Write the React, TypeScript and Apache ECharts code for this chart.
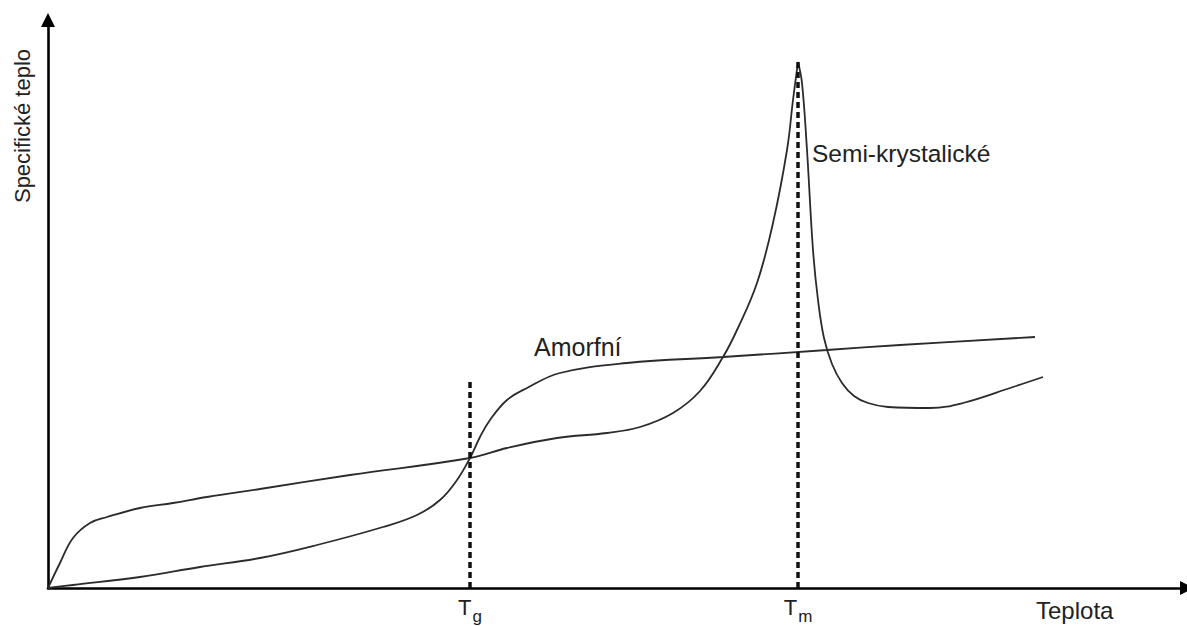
import React, { useEffect, useRef } from "react";
import * as echarts from "echarts";

// x: temperature (arbitrary units), y: specific heat (arbitrary units)
const amorphousX = [0, 25, 92, 152, 212, 269, 335, 369, 392, 409, 422, 432, 442, 459, 479, 512, 579, 675, 779, 852, 987];
const amorphousY = [0, 3, 11, 21, 30, 43, 61, 73, 88, 108, 130, 151, 168, 188, 200, 215, 225, 231, 238, 243, 251];

const semiRiseX = [0, 12, 25, 42, 59, 92, 125, 159, 212, 302, 422, 459, 509, 559, 592, 625, 652, 675, 689, 709, 725, 739, 745, 750];
const semiRiseY = [0, 25, 50, 65, 71, 80, 85, 91, 99, 113, 130, 140, 150, 155, 161, 175, 197, 231, 258, 305, 365, 438, 488, 526];

const semiFallX = [750, 754, 759, 765, 770, 776, 784, 794, 806, 820, 840, 882, 915, 965, 995];
const semiFallY = [526, 505, 438, 338, 288, 250, 224, 205, 192, 185, 181, 180, 185, 201, 211];

const Tg = 422;
const Tm = 750;
const TgTop = 208;
const TmTop = 526;

const xMax = 1139;
const yMax = 568;

const tickValues = [Tg, Tm];
const tickSubs = ["g", "m"];

const curveColor = "#2b2b2b";
const FONT = "Liberation Sans, Arial, sans-serif";

function zip(xs: number[], ys: number[]) {
  return xs.map((x, i) => [x, ys[i]]);
}

export default function App() {
  const ref = useRef<HTMLDivElement>(null);
  useEffect(() => {
    const chart = echarts.init(ref.current!, null, { renderer: "svg" });
    const lineCommon = {
      type: "line",
      showSymbol: false,
      silent: true,
      smooth: 0.4,
      lineStyle: { color: curveColor, width: 1.8 },
    };
    chart.setOption({
      animation: false,
      backgroundColor: "#ffffff",
      grid: { left: 48, right: 0, top: 20, bottom: 38, containLabel: false, outerBoundsMode: "none" },
      xAxis: {
        type: "value",
        min: 0,
        max: xMax,
        splitLine: { show: false },
        axisTick: { show: false },
        axisLine: {
          onZero: false,
          symbol: ["none", "triangle"],
          symbolSize: [14, 14],
          lineStyle: { color: "#000", width: 2.6 },
        },
        axisLabel: {
          customValues: tickValues,
          margin: 8,
          color: "#222",
          fontFamily: FONT,
          formatter: (v: number) => {
            const i = tickValues.indexOf(v);
            return i >= 0 ? "{t|T}{s|" + tickSubs[i] + "}" : "";
          },
          rich: {
            t: { fontSize: 22, verticalAlign: "top", fontFamily: FONT, color: "#222" },
            s: { fontSize: 17, verticalAlign: "top", padding: [12, 0, 0, 1], fontFamily: FONT, color: "#222" },
          },
        },
      },
      yAxis: {
        type: "value",
        min: 0,
        max: yMax,
        splitLine: { show: false },
        axisTick: { show: false },
        axisLabel: { show: false },
        axisLine: {
          onZero: false,
          symbol: ["none", "triangle"],
          symbolSize: [14, 14],
          lineStyle: { color: "#000", width: 2.6 },
        },
      },
      graphic: [
        {
          type: "text",
          x: 22,
          y: 126,
          rotation: Math.PI / 2,
          style: {
            text: "Specifické teplo",
            fontSize: 22,
            fontFamily: FONT,
            fill: "#222",
            align: "center",
            verticalAlign: "middle",
          },
        },
        {
          type: "text",
          x: 1036,
          y: 610,
          style: {
            text: "Teplota",
            fontSize: 24,
            fontFamily: FONT,
            fill: "#222",
            align: "left",
            verticalAlign: "middle",
          },
        },
        {
          type: "text",
          x: 534,
          y: 347,
          style: {
            text: "Amorfní",
            fontSize: 25,
            fontFamily: FONT,
            fill: "#222",
            align: "left",
            verticalAlign: "middle",
          },
        },
        {
          type: "text",
          x: 812,
          y: 153,
          style: {
            text: "Semi-krystalické",
            fontSize: 24.5,
            fontFamily: FONT,
            fill: "#222",
            align: "left",
            verticalAlign: "middle",
          },
        },
      ],
      series: [
        { ...lineCommon, name: "Amorfní", data: zip(amorphousX, amorphousY) },
        { ...lineCommon, name: "Semi-krystalické", data: zip(semiRiseX, semiRiseY) },
        { ...lineCommon, name: "Semi-krystalické (pokles)", data: zip(semiFallX, semiFallY) },
        {
          type: "line",
          silent: true,
          showSymbol: false,
          data: [[Tg, 0], [Tg, TgTop]],
          lineStyle: { color: "#111", width: 3.5, type: [6, 4] },
        },
        {
          type: "line",
          silent: true,
          showSymbol: false,
          data: [[Tm, 0], [Tm, TmTop]],
          lineStyle: { color: "#111", width: 3.5, type: [6, 4] },
        },
      ],
    });
    return () => chart.dispose();
  }, []);
  return (
    <div
      ref={ref}
      style={{ position: "fixed", left: 0, top: 0, width: 1187, height: 626, background: "#fff" }}
    />
  );
}
